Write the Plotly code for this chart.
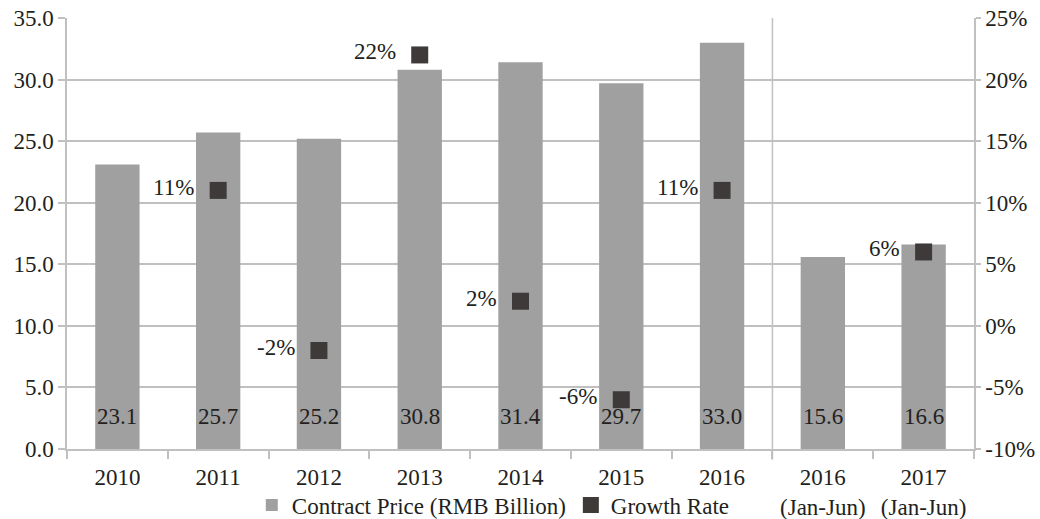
import plotly.graph_objects as go

categories = ["2010", "2011", "2012", "2013", "2014", "2015", "2016", "2016H1", "2017H1"]
tick_labels = ["2010", "2011", "2012", "2013", "2014", "2015", "2016",
               "2016<br>(Jan-Jun)", "2017<br>(Jan-Jun)"]
contract_price = [23.1, 25.7, 25.2, 30.8, 31.4, 29.7, 33.0, 15.6, 16.6]
growth_cats = ["2011", "2012", "2013", "2014", "2015", "2016", "2017H1"]
growth_rate = [11, -2, 22, 2, -6, 11, 6]
y2_ticks = [-10, -5, 0, 5, 10, 15, 20, 25]
y2_ticktext = ["-10%", "-5%", "0%", "5%", "10%", "15%", "20%", "25%"]

FONT = "Liberation Serif"
TXT = "#231f20"
GRID = "#c0c0c0"
BAR = "#a0a0a0"
MARK = "#3e3a3a"
FS = 23

fig = go.Figure()
fig.add_trace(go.Bar(x=categories, y=contract_price, name="Contract Price (RMB Billion)",
                     marker=dict(color=BAR, line=dict(width=0)), yaxis="y"))
fig.add_trace(go.Scatter(x=growth_cats, y=growth_rate, name="Growth Rate", mode="markers",
                         marker=dict(symbol="square", size=17, color=MARK), yaxis="y2"))

annotations = []
for c, v in zip(categories, contract_price):
    annotations.append(dict(x=categories.index(c), y=0, xref="x", yref="y", text=f"{v:.1f}",
                            showarrow=False, yanchor="middle", yshift=33,
                            font=dict(family=FONT, size=FS, color=TXT)))
for c, g in zip(growth_cats, growth_rate):
    annotations.append(dict(x=categories.index(c), y=g, xref="x", yref="y2", text=f"{g}%",
                            showarrow=False, xanchor="right", xshift=-22, yshift=3,
                            font=dict(family=FONT, size=FS, color=TXT)))

fig.update_layout(
    width=1040, height=519,
    margin=dict(l=67, r=66, t=18, b=70, autoexpand=False),
    paper_bgcolor="white", plot_bgcolor="white",
    font=dict(family=FONT, size=FS, color=TXT),
    bargap=0.56,
    showlegend=True,
    legend=dict(orientation="h", x=0.47, xanchor="center", y=-0.13, yanchor="middle",
                font=dict(family=FONT, size=FS, color=TXT), itemwidth=30,
                bgcolor="rgba(0,0,0,0)"),
    xaxis=dict(type="category", categoryorder="array", categoryarray=categories,
               range=[-0.5, len(categories) - 0.5], automargin=False,
               tickvals=categories, ticktext=tick_labels,
               tickson="boundaries", ticks="outside", ticklen=8, tickcolor=GRID, tickwidth=1.5,
               showline=True, linecolor=GRID, linewidth=1.5, showgrid=False,
               tickfont=dict(family=FONT, size=FS, color=TXT), ticklabelstandoff=7),
    yaxis=dict(range=[0, 35], dtick=5, tickformat=".1f", showgrid=True, gridcolor=GRID,
               gridwidth=1.5, showline=True, linecolor=GRID, linewidth=1.5, automargin=False,
               ticks="outside", ticklen=7, tickcolor=GRID, tickwidth=1.5, zeroline=False,
               tickfont=dict(family=FONT, size=FS, color=TXT)),
    yaxis2=dict(range=[-10, 25], overlaying="y", side="right", tickvals=y2_ticks,
                ticktext=y2_ticktext, showgrid=False, showline=True, linecolor=GRID,
                linewidth=1.5, ticks="outside", ticklen=5, tickcolor=GRID, tickwidth=1.5,
                zeroline=False, automargin=False, tickfont=dict(family=FONT, size=FS, color=TXT)),
    annotations=annotations,
    shapes=[dict(type="line", xref="x", yref="paper", x0=6.5, x1=6.5, y0=-0.025, y1=1,
                 line=dict(color=GRID, width=1.5), layer="below")],
)

fig.write_html("out.html")
